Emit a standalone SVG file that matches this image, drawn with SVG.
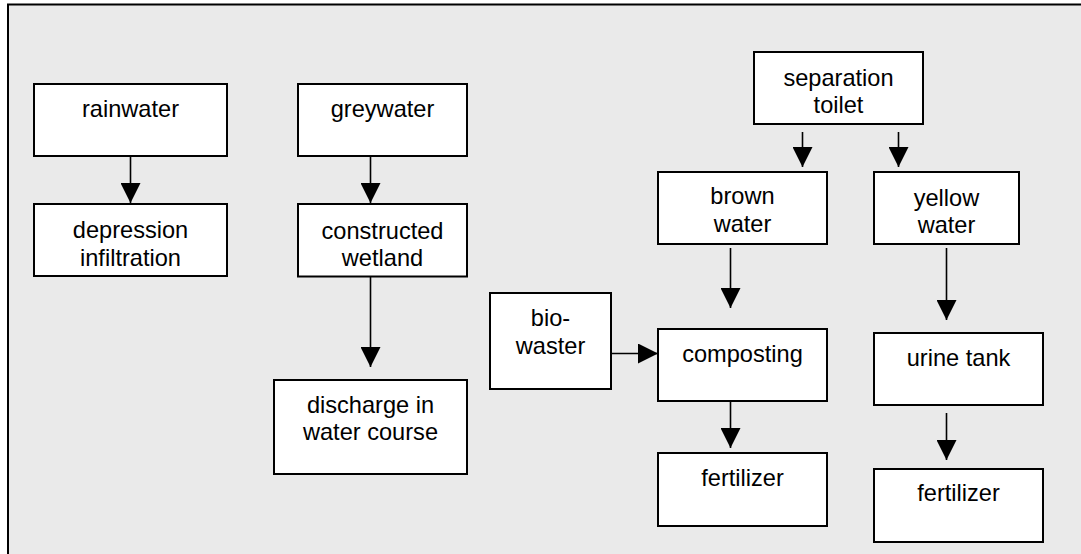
<svg xmlns="http://www.w3.org/2000/svg" width="1081" height="554" viewBox="0 0 1081 554">
<defs>
<style>
.box{fill:#fff;stroke:#000;stroke-width:2}
.lbl{font-family:"Liberation Sans",Arial,sans-serif;font-size:23.6px;fill:#000;text-anchor:middle}
.con{stroke:#000;stroke-width:1.6;fill:none;marker-end:url(#ah)}
</style>
<marker id="ah" markerUnits="userSpaceOnUse" markerWidth="20" markerHeight="20" refX="20" refY="10" orient="auto">
<path d="M0,0 L20,10 L0,20 Z" fill="#000"/>
</marker>
</defs>
<rect x="0" y="0" width="1081" height="554" fill="#fff"/>
<rect id="frame" x="8" y="4.5" width="1090" height="570" fill="#eaeaea" stroke="#000" stroke-width="2"/>
<g id="connectors">
<line class="con" x1="130.5" y1="157" x2="130.5" y2="203"/>
<line class="con" x1="370.5" y1="157" x2="370.5" y2="203"/>
<line class="con" x1="370.5" y1="263" x2="370.5" y2="367"/>
<line class="con" x1="802.5" y1="132" x2="802.5" y2="167"/>
<line class="con" x1="898.5" y1="132" x2="898.5" y2="167"/>
<line class="con" x1="730.5" y1="248" x2="730.5" y2="308"/>
<line class="con" x1="946.5" y1="248" x2="946.5" y2="320"/>
<line class="con" x1="611" y1="353.5" x2="658" y2="353.5"/>
<line class="con" x1="730.5" y1="402" x2="730.5" y2="448"/>
<line class="con" x1="946.5" y1="413" x2="946.5" y2="460"/>
</g>
<g id="rainwater"><rect class="box" x="34" y="84" width="193" height="72"/><text class="lbl" x="130.5" y="117">rainwater</text></g>
<g id="depression"><rect class="box" x="34" y="204" width="193" height="72"/><text class="lbl" x="130.5" y="238">depression</text><text class="lbl" x="130.5" y="265.5">infiltration</text></g>
<g id="greywater"><rect class="box" x="298" y="84" width="169" height="72"/><text class="lbl" x="382.5" y="117">greywater</text></g>
<g id="wetland"><rect class="box" x="298" y="204" width="169" height="72.5"/><text class="lbl" x="382.5" y="238.5">constructed</text><text class="lbl" x="382.5" y="265.5">wetland</text></g>
<g id="discharge"><rect class="box" x="274" y="380" width="193" height="94"/><text class="lbl" x="370.5" y="413">discharge in</text><text class="lbl" x="370.5" y="440">water course</text></g>
<g id="biowaster"><rect class="box" x="490" y="293" width="121" height="96"/><text class="lbl" x="550.5" y="325.5">bio-</text><text class="lbl" x="550.5" y="353.5">waster</text></g>
<g id="toilet"><rect class="box" x="754" y="52" width="169" height="72"/><text class="lbl" x="838.5" y="85.5">separation</text><text class="lbl" x="838.5" y="112.5">toilet</text></g>
<g id="brown"><rect class="box" x="658" y="172" width="169" height="72"/><text class="lbl" x="742.5" y="204">brown</text><text class="lbl" x="742.5" y="231.5">water</text></g>
<g id="yellow"><rect class="box" x="874" y="172" width="145" height="72"/><text class="lbl" x="946.5" y="205.5">yellow</text><text class="lbl" x="946.5" y="233">water</text></g>
<g id="composting"><rect class="box" x="658" y="329" width="169" height="72"/><text class="lbl" x="742.5" y="361.5">composting</text></g>
<g id="urine"><rect class="box" x="874" y="333" width="169" height="72"/><text class="lbl" x="958.5" y="366">urine tank</text></g>
<g id="fertilizer1"><rect class="box" x="658" y="453" width="169" height="73"/><text class="lbl" x="742.5" y="485.5">fertilizer</text></g>
<g id="fertilizer2"><rect class="box" x="874" y="469" width="169" height="73"/><text class="lbl" x="958.5" y="500.5">fertilizer</text></g>
</svg>
